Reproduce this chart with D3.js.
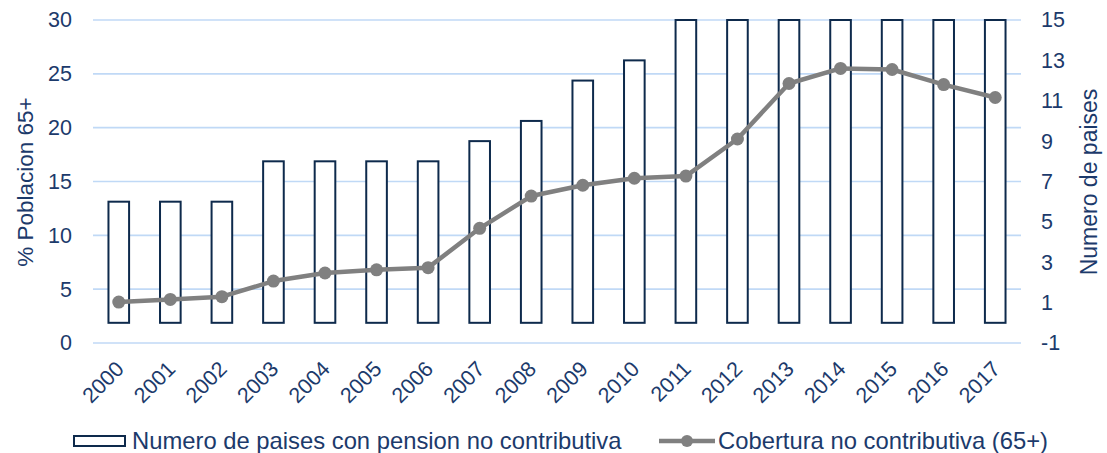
<!DOCTYPE html>
<html>
<head>
<meta charset="utf-8">
<script src="https://cdn.jsdelivr.net/npm/d3@7"></script>
<style>
	body {margin: 0; background: #fff}
	text {font-family: "Liberation Sans", Arial, sans-serif; fill: #1c3a6b}
</style>
</head>
<body>
<svg width="1107" height="453"></svg>
<script>
'use strict';
// chart data
let aYears = ["2000", "2001", "2002", "2003", "2004", "2005", "2006", "2007", "2008",
	"2009", "2010", "2011", "2012", "2013", "2014", "2015", "2016", "2017"]
let aPaises = [6, 6, 6, 8, 8, 8, 8, 9, 10, 12, 13, 15, 15, 15, 15, 15, 15, 15]
let aCobertura = [3.8, 4.05, 4.3, 5.75, 6.5, 6.8, 7.0, 10.65, 13.65, 14.65, 15.3, 15.5,
	18.95, 24.1, 25.5, 25.4, 24.0, 22.8]
let aLeftTicks = [0, 5, 10, 15, 20, 25, 30]
let aRightTicks = [-1, 1, 3, 5, 7, 9, 11, 13, 15]
let sBarLabel = "Numero de paises con pension no contributiva"
let sLineLabel = "Cobertura no contributiva (65+)"

let eSvg = d3.select("svg")
let dLeft = 93, dRight = 1021, dTop = 20, dBottom = 343
let cNavy = "#0e2a4c", cGrey = "#808080", cGrid = "#c0d9f6", cText = "#1c3a6b"

let sX = d3.scaleBand().domain(aYears).range([dLeft, dRight])
	.paddingInner(0.6).paddingOuter(0.3)
let sYL = d3.scaleLinear().domain([0, 30]).range([dBottom, dTop])
let sYR = d3.scaleLinear().domain([-1, 15]).range([dBottom, dTop])

// gridlines follow the left axis
eSvg.append("g").selectAll("line")
	.data(aLeftTicks).enter().append("line")
	.attr("x1", dLeft).attr("x2", dRight)
	.attr("y1", d => sYL(d)).attr("y2", d => sYL(d))
	.attr("stroke", cGrid).attr("stroke-width", 1.6)

// axes, drawn with d3 then stripped of domain/tick lines
// plain hyphen for "-1", like the original
let fPlain = d => String(d)
let gL = eSvg.append("g").attr("transform", `translate(${dLeft - 21},0)`)
	.call(d3.axisLeft(sYL).tickValues(aLeftTicks).tickFormat(fPlain).tickSize(0).tickPadding(0))
let gR = eSvg.append("g").attr("transform", `translate(${dRight + 20},0)`)
	.call(d3.axisRight(sYR).tickValues(aRightTicks).tickFormat(fPlain).tickSize(0).tickPadding(0))
let gX = eSvg.append("g").attr("transform", `translate(0,${dBottom})`)
	.call(d3.axisBottom(sX).tickSize(0))
eSvg.selectAll(".domain").remove()
eSvg.selectAll(".tick text").attr("font-size", 21.5).attr("fill", cText)
	.attr("font-family", "Liberation Sans, Arial, sans-serif")
gX.selectAll(".tick text")
	.attr("text-anchor", "end").attr("y", 0).attr("dy", "0.35em")
	.attr("transform", "translate(1,22) rotate(-45)")

// axis titles
eSvg.append("text").attr("transform", "translate(33,182) rotate(-90)")
	.attr("text-anchor", "middle").attr("font-size", 22.5).text("% Poblacion 65+")
eSvg.append("text").attr("transform", "translate(1097,182) rotate(-90)")
	.attr("text-anchor", "middle").attr("font-size", 23).text("Numero de paises")

// bars on the right axis
eSvg.append("g").selectAll("rect")
	.data(aPaises).enter().append("rect")
	.attr("x", (d, i) => sX(aYears[i]))
	.attr("width", sX.bandwidth())
	.attr("y", d => sYR(d))
	.attr("height", d => sYR(0) - sYR(d))
	.attr("fill", "#fff").attr("stroke", cNavy).attr("stroke-width", 2)

// coverage line on the left axis
let fLine = d3.line().x((d, i) => sX(aYears[i]) + sX.bandwidth() / 2).y(d => sYL(d))
eSvg.append("path").datum(aCobertura).attr("d", fLine)
	.attr("fill", "none").attr("stroke", cGrey).attr("stroke-width", 4.5)
	.attr("stroke-linejoin", "round")
eSvg.append("g").selectAll("circle")
	.data(aCobertura).enter().append("circle")
	.attr("cx", (d, i) => sX(aYears[i]) + sX.bandwidth() / 2)
	.attr("cy", d => sYL(d)).attr("r", 6.5).attr("fill", cGrey)

// legend
let gLeg = eSvg.append("g")
gLeg.append("rect").attr("x", 74).attr("y", 436).attr("width", 51).attr("height", 10)
	.attr("fill", "#fff").attr("stroke", cNavy).attr("stroke-width", 2)
gLeg.append("text").attr("x", 132).attr("y", 441).attr("dy", "0.35em")
	.attr("font-size", 23.8).text(sBarLabel)
gLeg.append("line").attr("x1", 659).attr("x2", 715).attr("y1", 441).attr("y2", 441)
	.attr("stroke", cGrey).attr("stroke-width", 4.5)
gLeg.append("circle").attr("cx", 687).attr("cy", 441).attr("r", 6).attr("fill", cGrey)
gLeg.append("text").attr("x", 718).attr("y", 441).attr("dy", "0.35em")
	.attr("font-size", 23.8).text(sLineLabel)
</script>
</body>
</html>
